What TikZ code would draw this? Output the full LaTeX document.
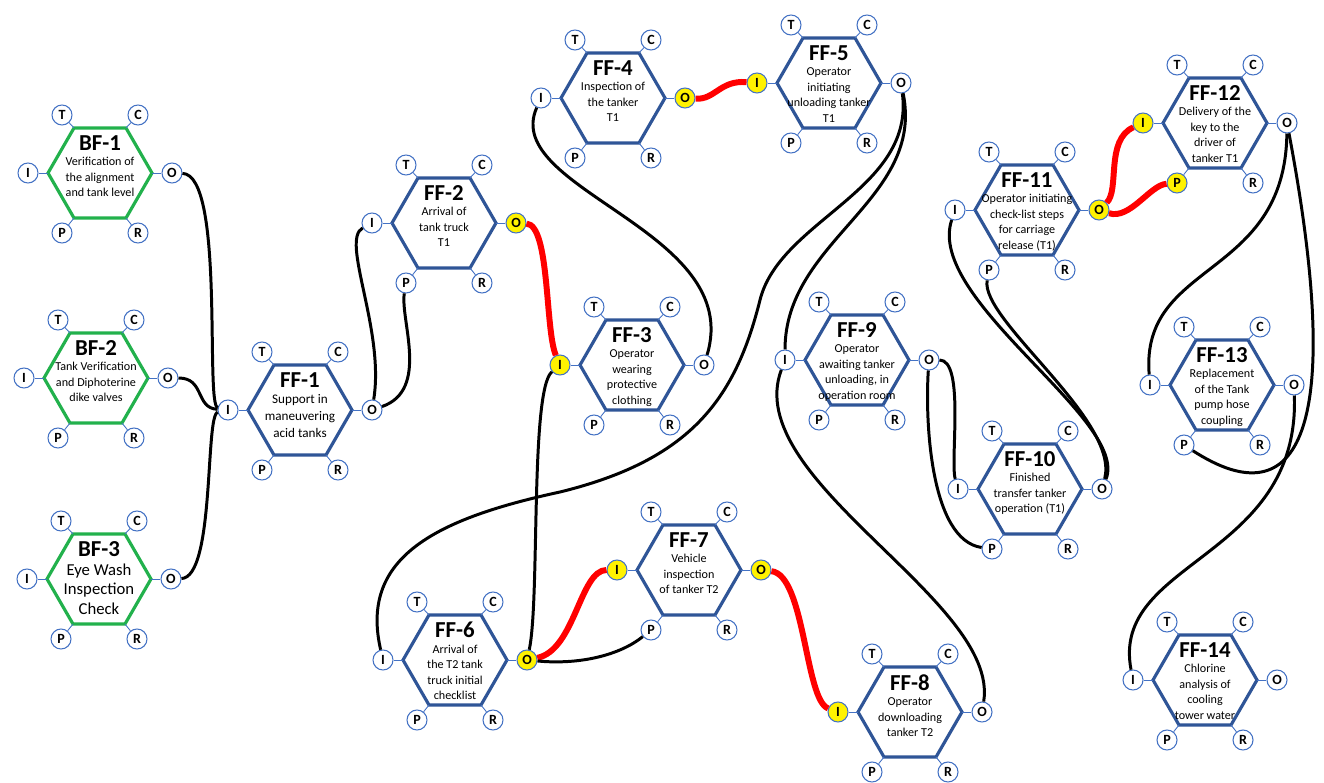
\documentclass[tikz,border=0pt]{standalone}
\usepackage{fontspec}
\setmainfont{Carlito}
\usetikzlibrary{shapes.geometric}

\definecolor{framblue}{RGB}{47,85,151}
\definecolor{framgreen}{RGB}{34,177,76}
\definecolor{portblue}{RGB}{68,114,196}

% one FRAM function: name, x, y, colour, title, text, text font
\newcommand{\framfn}[7]{%
  \begin{scope}[shift={(#2,#3)}]
    \node[hexa, draw=#4] (#1) at (0,0) {};
    \node[fntext, font=#7] (#1-txt) at (0,-38) {{\fontsize{13}{13}\selectfont\bfseries #5}\\#6};
    \node[port, #1-I/.try] (#1-I) at (-72,0) {I};
    \node[port, #1-O/.try] (#1-O) at (72,0) {O};
    \node[port, #1-T/.try] (#1-T) at (-38,-58) {T};
    \node[port, #1-C/.try] (#1-C) at (38,-58) {C};
    \node[port, #1-P/.try] (#1-P) at (-38,60) {P};
    \node[port, #1-R/.try] (#1-R) at (38,60) {R};
    \draw[stub] (#1-I) -- (#1.180);
    \draw[stub] (#1-O) -- (#1.0);
    \draw[stub] (#1-T) -- (#1.120);
    \draw[stub] (#1-C) -- (#1.60);
    \draw[stub] (#1-P) -- (#1.240);
    \draw[stub] (#1-R) -- (#1.300);
  \end{scope}}

\newcommand{\smalltxt}{\fontsize{6.9}{8.8}\selectfont}

% coupled (yellow) ports
\tikzset{
  hot/.style={fill=yellow},
  FF-2-O/.style={hot}, FF-3-I/.style={hot},
  FF-4-O/.style={hot}, FF-5-I/.style={hot},
  FF-6-O/.style={hot}, FF-7-I/.style={hot}, FF-7-O/.style={hot},
  FF-8-I/.style={hot},
  FF-11-O/.style={hot}, FF-12-I/.style={hot}, FF-12-P/.style={hot}
}

\begin{document}
\begin{tikzpicture}[x=0.02cm, y=-0.02cm,
    hexa/.style={regular polygon, regular polygon sides=6, minimum size=2.08cm, inner sep=0pt, outer sep=0pt, line width=1.8pt},
    port/.style={circle, draw=portblue, line width=0.6pt, fill=white, minimum size=0.4cm, inner sep=0pt, font=\fontsize{8}{8}\selectfont\bfseries},
    stub/.style={draw=portblue, line width=0.5pt},
    fntext/.style={align=center, inner sep=0pt, anchor=north},
    link/.style={line width=1.7pt, black},
    redlink/.style={line width=3.4pt, red}]

    \useasboundingbox (0,0) rectangle (1324,783);

    % background functions
    \framfn{BF-1}{100}{173}{framgreen}{BF-1}{Verification of\\the alignment\\and tank level}{\smalltxt}
    \framfn{BF-2}{96}{378}{framgreen}{BF-2}{Tank Verification\\and Diphoterine\\dike valves}{\smalltxt}
    \framfn{BF-3}{99}{579}{framgreen}{BF-3}{Eye Wash\\Inspection\\Check}{\fontsize{9.5}{11}\selectfont}

    % foreground functions
    \framfn{FF-1}{300}{410}{framblue}{FF-1}{Support in\\maneuvering\\acid tanks}{\fontsize{7.5}{9.5}\selectfont}
    \framfn{FF-2}{444}{223}{framblue}{FF-2}{Arrival of\\tank truck\\T1}{\smalltxt}
    \framfn{FF-3}{632}{365}{framblue}{FF-3}{Operator\\wearing\\protective\\clothing}{\smalltxt}
    \framfn{FF-4}{613}{98}{framblue}{FF-4}{Inspection of\\the tanker\\T1}{\smalltxt}
    \framfn{FF-5}{829}{83}{framblue}{FF-5}{Operator\\initiating\\unloading tanker\\T1}{\smalltxt}
    \framfn{FF-6}{455}{660}{framblue}{FF-6}{Arrival of\\the T2 tank\\truck initial\\checklist}{\smalltxt}
    \framfn{FF-7}{689}{570}{framblue}{FF-7}{Vehicle\\inspection\\of tanker T2}{\smalltxt}
    \framfn{FF-8}{910}{712}{framblue}{FF-8}{Operator\\downloading\\tanker T2}{\smalltxt}
    \framfn{FF-9}{857}{360}{framblue}{FF-9}{Operator\\awaiting tanker\\unloading, in\\operation room}{\smalltxt}
    \framfn{FF-10}{1030}{489}{framblue}{FF-10}{Finished\\transfer tanker\\operation (T1)}{\smalltxt}
    \framfn{FF-11}{1027}{210}{framblue}{FF-11}{Operator initiating\\check-list steps\\for carriage\\release (T1)}{\smalltxt}
    \framfn{FF-12}{1215}{123}{framblue}{FF-12}{Delivery of the\\key to the\\driver of\\tanker T1}{\smalltxt}
    \framfn{FF-13}{1222}{385}{framblue}{FF-13}{Replacement\\of the Tank\\pump hose\\coupling}{\smalltxt}
    \framfn{FF-14}{1205}{680}{framblue}{FF-14}{Chlorine\\analysis of\\cooling\\tower water}{\smalltxt}

    % couplings
    \draw[link] (BF-1-O) .. controls (225,175) and (205,405) .. (FF-1-I);
    \draw[link] (BF-2-O) .. controls (205,378) and (195,408) .. (FF-1-I);
    \draw[link] (BF-3-O) .. controls (215,577) and (205,415) .. (FF-1-I);
    \draw[link] (FF-1-O) .. controls (385,330) and (340,240) .. (FF-2-I);
    \draw[link] (FF-1-O) .. controls (430,390) and (400,320) .. (FF-2-P);
    \draw[redlink] (FF-2-O) .. controls (550,225) and (545,330) .. (FF-3-I);
    \draw[link] (FF-3-O) .. controls (745,230) and (500,190) .. (FF-4-I);
    \draw[redlink] (FF-4-O) .. controls (715,100) and (720,80) .. (FF-5-I);
    \draw[link] (FF-5-O) .. controls (915,190) and (780,220) .. (760,300) .. controls (735,400) and (690,460) .. (560,492) .. controls (430,520) and (360,560) .. (FF-6-I);
    \draw[link] (FF-5-O) .. controls (925,200) and (785,240) .. (FF-9-I);
    \draw[link] (FF-6-O) .. controls (540,600) and (530,390) .. (FF-3-I);
    \draw[redlink] (FF-6-O) .. controls (575,650) and (580,570) .. (FF-7-I);
    \draw[link] (FF-6-O) .. controls (580,665) and (620,655) .. (FF-7-P);
    \draw[redlink] (FF-7-O) .. controls (805,575) and (805,700) .. (FF-8-I);
    \draw[link] (FF-8-O) .. controls (1000,600) and (740,480) .. (FF-9-I);
    \draw[link] (FF-9-O) .. controls (965,360) and (950,460) .. (FF-10-I);
    \draw[link] (FF-9-O) .. controls (925,420) and (930,540) .. (FF-10-P);
    \draw[link] (FF-10-O) .. controls (1130,420) and (925,300) .. (FF-11-I);
    \draw[link] (FF-10-O) .. controls (1120,420) and (980,320) .. (FF-11-P);
    \draw[redlink] (FF-11-O) .. controls (1120,190) and (1105,140) .. (FF-12-I);
    \draw[redlink] (FF-11-O) .. controls (1130,220) and (1150,185) .. (FF-12-P);
    \draw[link] (FF-12-O) .. controls (1285,280) and (1140,260) .. (FF-13-I);
    \draw[link] (FF-12-O) .. controls (1345,430) and (1300,520) .. (FF-13-P);
    \draw[link] (FF-13-O) .. controls (1300,560) and (1110,560) .. (FF-14-I);

\end{tikzpicture}
\end{document}
